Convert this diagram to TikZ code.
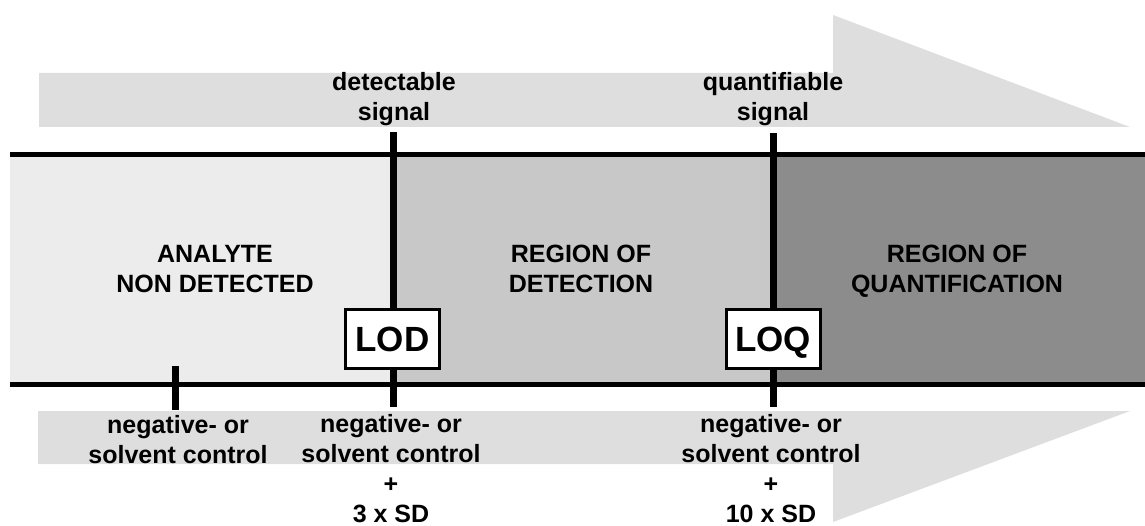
\documentclass[tikz,border=0pt]{standalone}
\usepackage{fontspec}
\setmainfont{Liberation Sans}
\definecolor{arrowgray}{HTML}{DEDEDE}
\definecolor{nondet}{HTML}{ECECEC}
\definecolor{detgray}{HTML}{C8C8C8}
\definecolor{quantgray}{HTML}{8C8C8C}
\begin{document}
\begin{tikzpicture}[x=1pt,y=-1pt,
  lbl/.style={font=\fontsize{25}{30}\selectfont\bfseries, align=center, anchor=base},
  limbox/.style={draw, line width=3pt, fill=white, minimum width=94pt, minimum height=59pt, inner sep=0pt, text height=25pt, text depth=0pt, font=\fontsize{35}{40}\selectfont\bfseries},
  bandline/.style={line width=5pt},
  tickline/.style={line width=7pt}]
\useasboundingbox (0,0) rectangle (1145,526);
\fill[arrowgray] (39,73) -- (833,73) -- (833,15) -- (1130,127) -- (39,127) -- cycle;
\fill[arrowgray] (38,411) -- (1130,411) -- (833,522) -- (833,464) -- (38,464) -- cycle;
\fill[nondet] (10,155) rectangle (393,385);
\fill[detgray] (393,155) rectangle (773,385);
\fill[quantgray] (773,155) rectangle (1145,385);
\coordinate (topl) at (10,155);
\coordinate (topr) at (1145,155);
\coordinate (botl) at (10,384);
\coordinate (botr) at (1145,384);
\draw[bandline] (topl) -- (topr);
\draw[bandline] (botl) -- (botr);
\coordinate (negtop) at (175,366);
\coordinate (negbot) at (175,410);
\coordinate (lodtop) at (393,132);
\coordinate (lodbot) at (393,407);
\coordinate (loqtop) at (773,133);
\coordinate (loqbot) at (773,407);
\draw[tickline] (negtop) -- (negbot);
\draw[tickline] (lodtop) -- (lodbot);
\draw[tickline] (loqtop) -- (loqbot);
\node[limbox] (lodbox) at (392.5,339) {LOD};
\node[limbox] (loqbox) at (773,339) {LOQ};
\node[lbl] (detsig) at (394,121) {detectable\\signal};
\node[lbl] (quantsig) at (773,121) {quantifiable\\signal};
\node[lbl] (nonreg) at (215,293) {ANALYTE\\NON DETECTED};
\node[lbl] (detreg) at (581,293) {REGION OF\\DETECTION};
\node[lbl] (quantreg) at (957,293) {REGION OF\\QUANTIFICATION};
\node[lbl] (negctl) at (178,463) {negative- or\\solvent control};
\node[lbl] (lodctl) at (391,522) {negative- or\\solvent control\\+\\3 x SD};
\node[lbl] (loqctl) at (771,522) {negative- or\\solvent control\\+\\10 x SD};
\end{tikzpicture}
\end{document}
